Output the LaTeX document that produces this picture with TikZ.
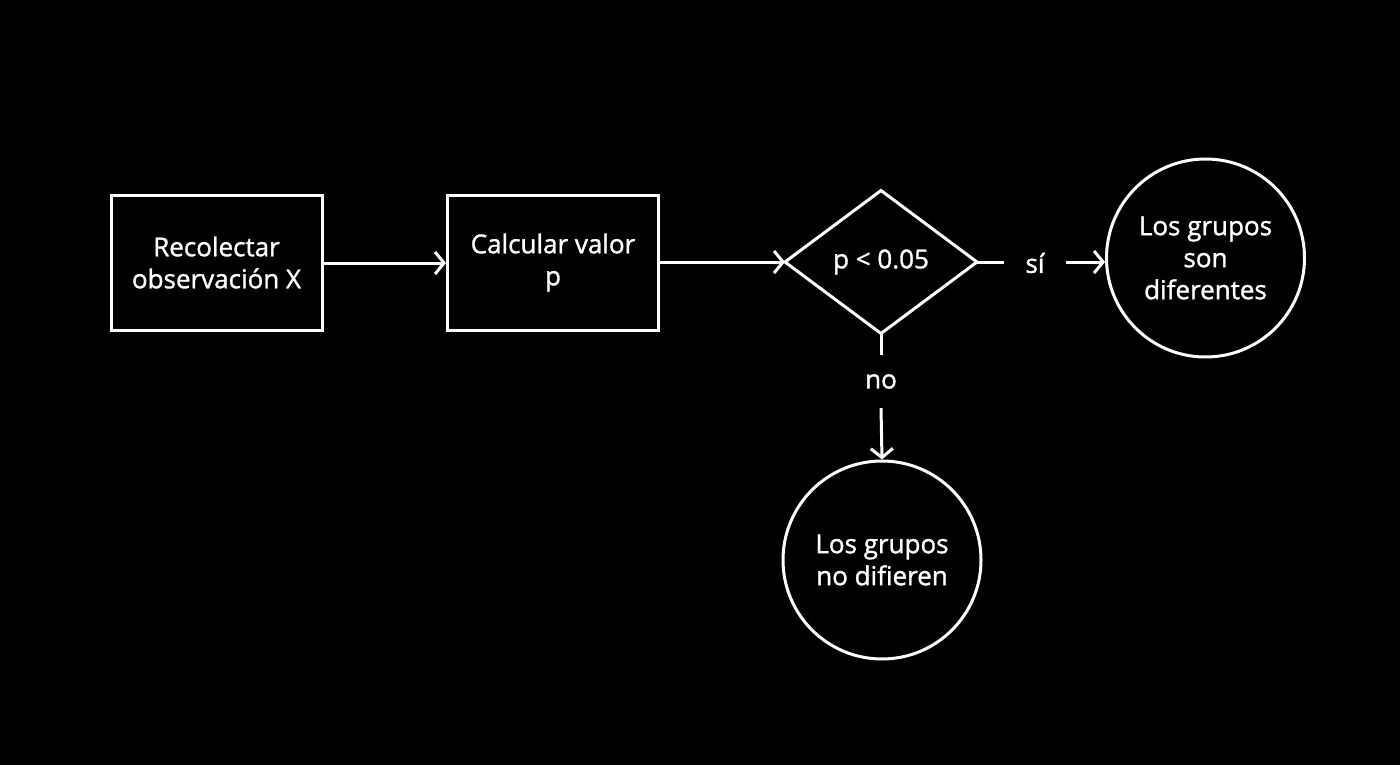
\documentclass[tikz,border=0pt]{standalone}
\usepackage{fontspec}
\setmainfont{Open Sans}[FakeBold=1.3]
\usetikzlibrary{shapes.geometric,arrows.meta}
\begin{document}
\begin{tikzpicture}[x=1pt,y=-1pt,
  every node/.style={text=white,font=\fontsize{26}{32}\selectfont,align=center},
  stepbox/.style={draw=white,line width=3pt,minimum width=211pt,minimum height=135pt,inner sep=0pt},
  decide/.style={diamond,minimum width=192pt,minimum height=143pt,inner sep=0pt,outer sep=0pt},
  endcircle/.style={draw=white,line width=3pt,circle,minimum size=198pt,inner sep=0pt},
  lbl/.style={inner sep=0pt},
  conn/.style={draw=white,line width=3pt},
  arr/.style={conn,-{Straight Barb[length=9pt,width=22pt,line width=3pt]}}
]
\fill[black] (0,0) rectangle (1400,765);
\useasboundingbox (0,0) rectangle (1400,765);
\node[stepbox] (rec) at (216.5,262.5) {Recolectar\\observación X};
\node[stepbox] (calc) at (553,262.5) {Calcular valor\\p};
\node[decide] (dec) at (881,262) {p < 0.05};
\coordinate (dN) at (881,190.5);
\coordinate (dE) at (977,262);
\coordinate (dS) at (881,333.5);
\coordinate (dW) at (785,262);
\draw[conn,line join=miter] (dN) -- (dE) -- (dS) -- (dW) -- cycle;
\node[lbl,minimum width=62pt] (si) at (1035,263) {sí};
\node[endcircle] (dif) at (1205.5,258) {Los grupos\\son\\diferentes};
\node[lbl,minimum height=53pt] (no) at (881,381.5) {no};
\node[endcircle] (nodif) at (882,560) {Los grupos\\no difieren};
\draw[arr] (rec.east |- 0,263) -- (calc.west |- 0,263);
\draw[arr] (calc.east |- dW) -- (dW);
\draw[conn] (dE) -- (si.west |- dE);
\draw[arr] (si.east |- dE) -- (dif.west |- dE);
\draw[conn] (dS) -- (no.north);
\draw[arr] (no.south) -- (nodif.north);
\end{tikzpicture}
\end{document}
